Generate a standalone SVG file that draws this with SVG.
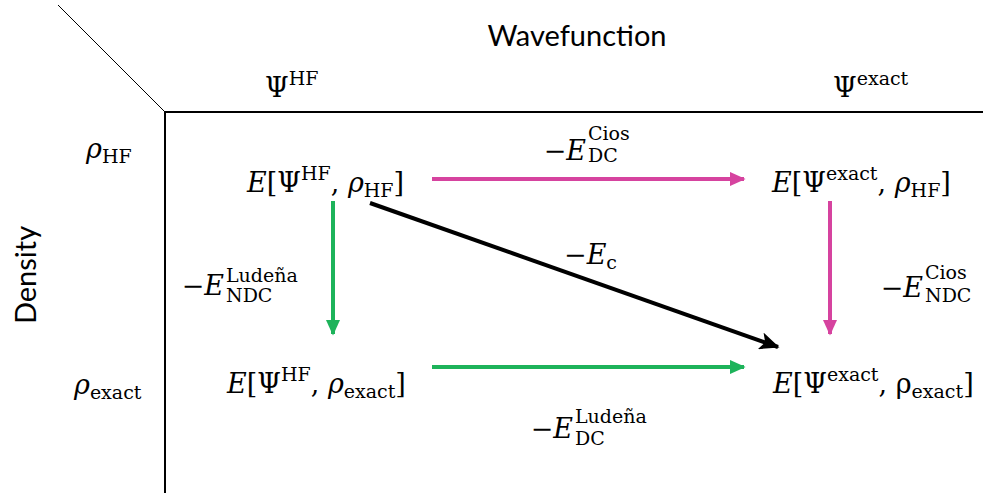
<svg xmlns="http://www.w3.org/2000/svg" width="983" height="493" viewBox="0 0 983 493">
<style>
.m{font-family:"DejaVu Serif","Liberation Serif",serif;font-size:27px;fill:#000}
.i{font-style:italic}
.s{font-size:19px}
.lab{font-family:"Lato","Open Sans",sans-serif;font-size:29px;fill:#000}
.ax{stroke:#000;fill:none}
</style>
<defs>
<marker id="aM" markerWidth="4" markerHeight="3.6" refX="3.6" refY="1.8" orient="auto" markerUnits="strokeWidth"><path d="M0,0 L4,1.8 L0,3.6 z" fill="#D6439F"/></marker>
<marker id="aG" markerWidth="4" markerHeight="3.6" refX="3.6" refY="1.8" orient="auto" markerUnits="strokeWidth"><path d="M0,0 L4,1.8 L0,3.6 z" fill="#1DB35A"/></marker>
<marker id="aK" markerWidth="5" markerHeight="4.4" refX="4.6" refY="2.2" orient="auto" markerUnits="strokeWidth"><path d="M0,0 L5,2.2 L0,4.4 L1.2,2.2 z" fill="#000"/></marker>
</defs>
<g id="axes">
<line class="ax" x1="58" y1="5" x2="165" y2="112" stroke-width="1"/>
<line class="ax" x1="165" y1="112" x2="983" y2="112" stroke-width="2"/>
<line class="ax" x1="165" y1="112" x2="165" y2="493" stroke-width="2"/>
<text class="lab" x="577" y="46" text-anchor="middle">Wavefunction</text>
<text class="lab" transform="translate(36,275) rotate(-90)" text-anchor="middle">Density</text>
<text class="m" x="265" y="97">Ψ<tspan class="s" dy="-12">HF</tspan></text>
<text class="m" x="833" y="97">Ψ<tspan class="s" dy="-12">exact</tspan></text>
<text class="m" x="86" y="158"><tspan class="i">ρ</tspan><tspan class="s" dy="5">HF</tspan></text>
<text class="m" x="74" y="394"><tspan class="i">ρ</tspan><tspan class="s" dy="5">exact</tspan></text>
</g>
<g id="n1"><text class="m" x="247" y="192"><tspan class="i">E</tspan>[Ψ<tspan class="s" dy="-12">HF</tspan><tspan dy="12">, </tspan><tspan class="i">ρ</tspan><tspan class="s" dy="5">HF</tspan><tspan dy="-5">]</tspan></text></g>
<g id="n2"><text class="m" x="772" y="192"><tspan class="i">E</tspan>[Ψ<tspan class="s" dy="-12">exact</tspan><tspan dy="12">, </tspan><tspan class="i">ρ</tspan><tspan class="s" dy="5">HF</tspan><tspan dy="-5">]</tspan></text></g>
<g id="n3"><text class="m" x="227" y="393"><tspan class="i">E</tspan>[Ψ<tspan class="s" dy="-12">HF</tspan><tspan dy="12">, </tspan><tspan class="i">ρ</tspan><tspan class="s" dy="5">exact</tspan><tspan dy="-5">]</tspan></text></g>
<g id="n4"><text class="m" x="773" y="393"><tspan class="i">E</tspan>[Ψ<tspan class="s" dy="-12">exact</tspan><tspan dy="12">, ρ</tspan><tspan class="s" dy="5">exact</tspan><tspan dy="-5">]</tspan></text></g>
<g id="connectors">
<line x1="432" y1="179" x2="744" y2="179" stroke="#D6439F" stroke-width="4" marker-end="url(#aM)"/>
<line x1="830" y1="201" x2="830" y2="334" stroke="#D6439F" stroke-width="4" marker-end="url(#aM)"/>
<line x1="333" y1="201" x2="333" y2="334" stroke="#1DB35A" stroke-width="4" marker-end="url(#aG)"/>
<line x1="432" y1="367" x2="744" y2="367" stroke="#1DB35A" stroke-width="4" marker-end="url(#aG)"/>
<line x1="370" y1="203" x2="778" y2="347" stroke="#000" stroke-width="4" marker-end="url(#aK)"/>
</g>
<g id="labels">
<text class="m" x="586" y="160" text-anchor="end">−<tspan class="i">E</tspan></text>
<text class="m s" x="588" y="140">Cios</text><text class="m s" x="588" y="162">DC</text>
<text class="m" x="564" y="264">−<tspan class="i">E</tspan><tspan class="s" dy="5">c</tspan></text>
<text class="m" x="224" y="295" text-anchor="end">−<tspan class="i">E</tspan></text>
<text class="m s" x="226" y="282">Ludeña</text><text class="m s" x="226" y="302">NDC</text>
<text class="m" x="923" y="297" text-anchor="end">−<tspan class="i">E</tspan></text>
<text class="m s" x="925" y="279">Cios</text><text class="m s" x="925" y="302">NDC</text>
<text class="m" x="573" y="438" text-anchor="end">−<tspan class="i">E</tspan></text>
<text class="m s" x="575" y="423">Ludeña</text><text class="m s" x="575" y="445">DC</text>
</g>
</svg>
